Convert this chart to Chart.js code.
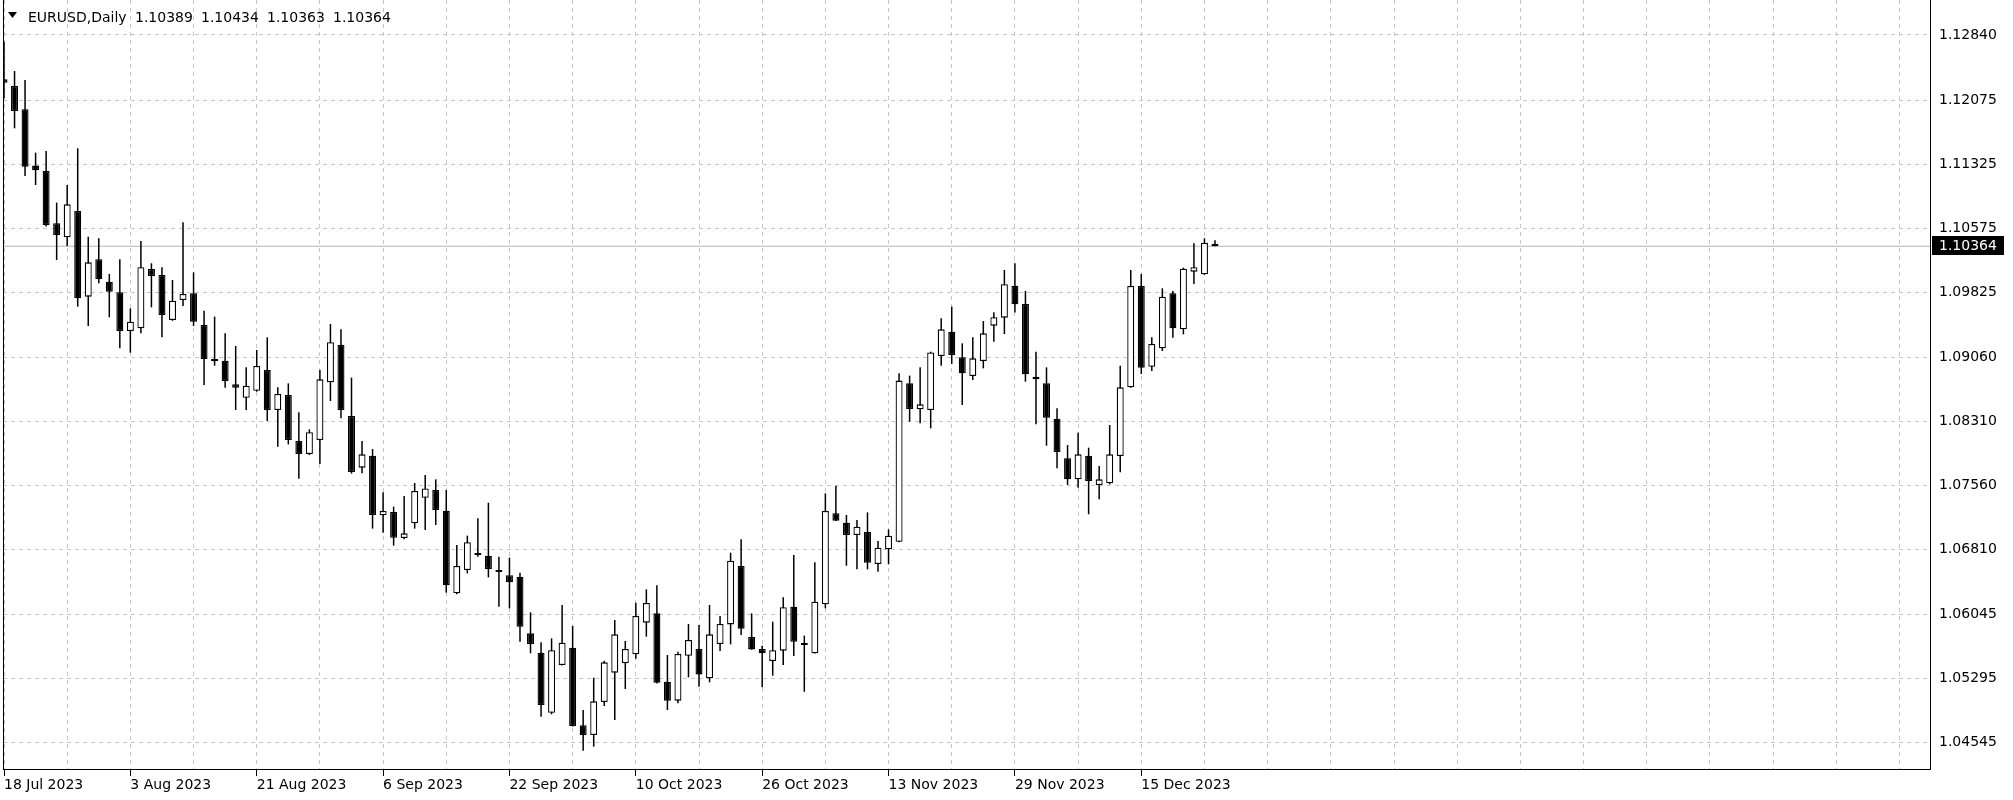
<!DOCTYPE html>
<html>
<head>
<meta charset="utf-8">
<title>EURUSD,Daily</title>
<script src="https://cdn.jsdelivr.net/npm/chart.js@4.4.0/dist/chart.umd.min.js"></script>
<style>
  html, body { margin: 0; padding: 0; background: #fff; }
  #chart_wrap { width: 2013px; height: 800px; }
</style>
</head>
<body>
<div id="chart_wrap"><canvas id="chart_eurusd" width="2013" height="800"></canvas></div>
<script>
// daily bars, 18 Jul 2023 .. last (open) bar
const symbol_name = 'EURUSD,Daily';

const opens = [
  1.12320, 1.12242, 1.11969, 1.11309, 1.11246, 1.10633, 1.10468, 1.10777, 1.09773, 1.10211,
  1.09949, 1.09824, 1.09371, 1.09402, 1.10097, 1.10027, 1.09500, 1.09734, 1.09812, 1.09441,
  1.09042, 1.09023, 1.08745, 1.08589, 1.08671, 1.08913, 1.08445, 1.08620, 1.08081, 1.07929,
  1.08093, 1.08769, 1.09207, 1.08374, 1.07769, 1.07909, 1.07210, 1.07249, 1.06944, 1.07116,
  1.07417, 1.07507, 1.07265, 1.06296, 1.06569, 1.06765, 1.06737, 1.06555, 1.06507, 1.06491,
  1.05827, 1.05600, 1.04897, 1.05456, 1.05659, 1.04749, 1.04635, 1.05022, 1.05366, 1.05475,
  1.05581, 1.05952, 1.06061, 1.05260, 1.05038, 1.05565, 1.05643, 1.05300, 1.05702, 1.05932,
  1.06616, 1.05784, 1.05643, 1.05503, 1.05624, 1.06140, 1.05700, 1.05593, 1.06167, 1.07234,
  1.07124, 1.06980, 1.07015, 1.06640, 1.06812, 1.06901, 1.08757, 1.08452, 1.08445, 1.09078,
  1.09363, 1.09062, 1.08843, 1.09019, 1.09433, 1.09527, 1.09902, 1.09687, 1.08835, 1.08757,
  1.08343, 1.07878, 1.07632, 1.07909, 1.07566, 1.07585, 1.07905, 1.08710, 1.09898, 1.08952,
  1.09167, 1.09812, 1.09390, 1.10066, 1.10035, 1.10389
];
const highs = [
  1.12760, 1.12418, 1.12313, 1.11461, 1.11480, 1.10875, 1.11082, 1.11512, 1.10476, 1.10457,
  1.10039, 1.10211, 1.09636, 1.10425, 1.10164, 1.10117, 1.09968, 1.10644, 1.10058, 1.09609,
  1.09539, 1.09343, 1.09195, 1.08945, 1.09148, 1.09296, 1.08710, 1.08757, 1.08417, 1.08218,
  1.08913, 1.09453, 1.09390, 1.08824, 1.08081, 1.07987, 1.07480, 1.07312, 1.07437, 1.07589,
  1.07683, 1.07632, 1.07507, 1.06862, 1.06972, 1.07175, 1.07358, 1.06725, 1.06714, 1.06538,
  1.06073, 1.05722, 1.05768, 1.06159, 1.05913, 1.04928, 1.05307, 1.05507, 1.05983, 1.05737,
  1.06186, 1.06343, 1.06390, 1.05573, 1.05612, 1.05936, 1.05925, 1.06159, 1.06030, 1.06772,
  1.06929, 1.06061, 1.05682, 1.05964, 1.06249, 1.06745, 1.05800, 1.06659, 1.07468, 1.07558,
  1.07214, 1.07155, 1.07245, 1.06909, 1.07046, 1.08874, 1.08847, 1.08945, 1.09128, 1.09519,
  1.09656, 1.09226, 1.09296, 1.09488, 1.09589, 1.10086, 1.10164, 1.09839, 1.09128, 1.08945,
  1.08464, 1.08034, 1.08179, 1.08003, 1.07788, 1.08269, 1.08964, 1.10086, 1.10039, 1.09296,
  1.09871, 1.09839, 1.10113, 1.10398, 1.10457, 1.10434
];
const lows = [
  1.12100, 1.11746, 1.11187, 1.11082, 1.10594, 1.10203, 1.10367, 1.09656, 1.09429, 1.09929,
  1.09531, 1.09167, 1.09117, 1.09343, 1.09648, 1.09296, 1.09490, 1.09664, 1.09429, 1.08738,
  1.08964, 1.08706, 1.08445, 1.08445, 1.08659, 1.08316, 1.08015, 1.08042, 1.07640, 1.07917,
  1.07812, 1.08550, 1.08347, 1.07700, 1.07702, 1.07054, 1.07007, 1.06855, 1.06929, 1.07054,
  1.07038, 1.07097, 1.06304, 1.06284, 1.06530, 1.06725, 1.06483, 1.06139, 1.06120, 1.05729,
  1.05593, 1.04850, 1.04878, 1.05450, 1.04735, 1.04452, 1.04499, 1.04975, 1.04811, 1.05175,
  1.05530, 1.05788, 1.05240, 1.04928, 1.05007, 1.05311, 1.05202, 1.05253, 1.05620, 1.05698,
  1.05807, 1.05635, 1.05194, 1.05331, 1.05456, 1.05561, 1.05143, 1.05590, 1.06120, 1.07145,
  1.06620, 1.06577, 1.06577, 1.06550, 1.06636, 1.06895, 1.08308, 1.08288, 1.08230, 1.08964,
  1.08984, 1.08503, 1.08796, 1.08933, 1.09246, 1.09335, 1.09586, 1.08777, 1.08277, 1.08027,
  1.07761, 1.07566, 1.07534, 1.07222, 1.07398, 1.07573, 1.07714, 1.08705, 1.08867, 1.08902,
  1.09136, 1.09292, 1.09331, 1.09921, 1.10030, 1.10363
];
const closes = [
  1.12280, 1.11949, 1.11297, 1.11254, 1.10613, 1.10496, 1.10855, 1.09753, 1.10175, 1.09976,
  1.09832, 1.09371, 1.09480, 1.10117, 1.10015, 1.09558, 1.09726, 1.09804, 1.09480, 1.09042,
  1.09015, 1.08785, 1.08706, 1.08730, 1.08960, 1.08445, 1.08632, 1.08093, 1.07929, 1.08183,
  1.08804, 1.09238, 1.08445, 1.07718, 1.07925, 1.07214, 1.07261, 1.06948, 1.06999, 1.07495,
  1.07526, 1.07273, 1.06390, 1.06616, 1.06894, 1.06745, 1.06581, 1.06545, 1.06425, 1.05905,
  1.05702, 1.04987, 1.05628, 1.05718, 1.04741, 1.04635, 1.05030, 1.05487, 1.05815, 1.05643,
  1.06030, 1.06183, 1.05249, 1.05038, 1.05585, 1.05749, 1.05346, 1.05815, 1.05936, 1.06679,
  1.05882, 1.05639, 1.05593, 1.05628, 1.06132, 1.05729, 1.05690, 1.06198, 1.07261, 1.07148,
  1.06980, 1.07077, 1.06655, 1.06831, 1.06972, 1.08789, 1.08456, 1.08511, 1.09120, 1.09390,
  1.09089, 1.08874, 1.09050, 1.09343, 1.09531, 1.09918, 1.09683, 1.08863, 1.08804, 1.08355,
  1.07952, 1.07632, 1.07925, 1.07612, 1.07632, 1.07925, 1.08710, 1.09898, 1.08941, 1.09218,
  1.09773, 1.09402, 1.10101, 1.10117, 1.10406, 1.10364
];

// time axis labels, one every 12 bars starting at bar 0
const x_labels = ['18 Jul 2023', '3 Aug 2023', '21 Aug 2023', '6 Sep 2023', '22 Sep 2023',
                  '10 Oct 2023', '26 Oct 2023', '13 Nov 2023', '29 Nov 2023', '15 Dec 2023'];
// price axis labels
const y_ticks = [1.12840, 1.12075, 1.11325, 1.10575, 1.09825, 1.09060,
                 1.08310, 1.07560, 1.06810, 1.06045, 1.05295, 1.04545];

const bars_per_label = 12;
const bars_per_grid = 6;

// visible window (bar index / price)
const x_min = -0.095;
const x_max = 182.9;
const y_min = 1.04237;
const y_max = 1.13250;

const font_name = '"DejaVu Sans", Verdana, sans-serif';
const grid_color = '#c6c6c6';

Chart.defaults.font.family = font_name;
Chart.defaults.font.size = 14;
Chart.defaults.color = '#000';

// build chart.js data
let wick_data = [];
let body_data = [];
for (let i=0; i<opens.length; i++){
  wick_data.push({x: i, y: [lows[i], highs[i]]});
  body_data.push({x: i, y: [opens[i], closes[i]]});
}
const last = closes.length - 1;
const bid_data = [{x: x_min, y: closes[last]}, {x: x_max, y: closes[last]}];

// title, left frame and bid label
const mt4_overlay = {
  id: 'mt4_overlay',
  afterDraw(chart){
    const ctx = chart.ctx;
    const area = chart.chartArea;
    const y_scale = chart.scales.y;
    ctx.save();
    ctx.strokeStyle = '#000';
    ctx.lineWidth = 1;
    ctx.beginPath();
    ctx.moveTo(area.left + 0.5, area.top);
    ctx.lineTo(area.left + 0.5, area.bottom);
    ctx.stroke();

    // bid price box on the price scale
    const py = Math.round(y_scale.getPixelForValue(closes[last]));
    ctx.fillStyle = '#000';
    ctx.fillRect(area.right + 2, py - 10, 72, 19);
    ctx.fillStyle = '#fff';
    ctx.font = '14px ' + font_name;
    ctx.textBaseline = 'middle';
    ctx.textAlign = 'left';
    ctx.fillText(closes[last].toFixed(5), area.right + 9, py);

    // symbol line at top-left
    ctx.fillStyle = '#000';
    ctx.beginPath();
    ctx.moveTo(area.left + 5, 12);
    ctx.lineTo(area.left + 14, 12);
    ctx.lineTo(area.left + 9.5, 18);
    ctx.closePath();
    ctx.fill();
    ctx.textBaseline = 'alphabetic';
    ctx.fillText(symbol_name, 28, 22);
    const ohlc = [opens[last], highs[last], lows[last], closes[last]];
    for (let k=0; k<ohlc.length; k++){
      ctx.fillText(ohlc[k].toFixed(5), 135 + k*66, 22);
    }
    ctx.restore();
  }
};

const config = {
  type: 'bar',
  data: {
    datasets: [
      {
        // high-low wicks
        data: wick_data,
        barThickness: 1.5,
        backgroundColor: '#000',
        borderWidth: 0,
        grouped: false,
        inflateAmount: 0,
        order: 2
      },
      {
        // open-close bodies
        data: body_data,
        barThickness: 7,
        minBarLength: 2,
        backgroundColor: ctx => closes[ctx.dataIndex] >= opens[ctx.dataIndex] ? '#fff' : '#000',
        borderColor: '#000',
        borderWidth: 1.3,
        borderSkipped: false,
        grouped: false,
        inflateAmount: 0,
        order: 1
      },
      {
        // bid line
        type: 'line',
        data: bid_data,
        borderColor: '#b4b4b4',
        borderWidth: 1,
        pointRadius: 0,
        fill: false,
        order: 3
      }
    ]
  },
  options: {
    responsive: false,
    devicePixelRatio: 1,
    animation: false,
    events: [],
    layout: { autoPadding: false, padding: { left: 3, top: 0, right: 0, bottom: 0 } },
    plugins: { legend: { display: false }, title: { display: false }, tooltip: { enabled: false } },
    scales: {
      x: {
        type: 'linear',
        position: 'bottom',
        min: x_min,
        max: x_max,
        bounds: 'data',
        offset: false,
        afterBuildTicks: scale => {
          let t = [];
          for (let v=0; v<=x_max; v+=bars_per_grid) t.push({value: v});
          scale.ticks = t;
        },
        afterFit: scale => {
          scale.height = 31;
          scale.paddingLeft = 0;
          scale.paddingRight = 0;
        },
        grid: {
          offset: false,
          color: grid_color,
          lineWidth: 1,
          tickLength: 7,
          tickColor: ctx => (ctx.tick && ctx.tick.value % bars_per_label === 0 &&
                             ctx.tick.value / bars_per_label < x_labels.length) ? '#000' : 'rgba(0,0,0,0)'
        },
        border: { display: true, color: '#000', width: 1, dash: [4, 4] },
        ticks: {
          autoSkip: false,
          maxRotation: 0,
          align: 'start',
          padding: 1,
          callback: function(value){
            if (value % bars_per_label !== 0) return '';
            const k = value / bars_per_label;
            return k < x_labels.length ? x_labels[k] : '';
          }
        }
      },
      y: {
        type: 'linear',
        position: 'right',
        min: y_min,
        max: y_max,
        bounds: 'data',
        afterBuildTicks: scale => {
          scale.ticks = y_ticks.map(v => ({value: v}));
        },
        afterFit: scale => {
          scale.width = 83;
          scale.paddingTop = 0;
          scale.paddingBottom = 0;
        },
        grid: { color: grid_color, lineWidth: 1, drawTicks: false },
        border: { display: true, color: '#000', width: 1, dash: [4, 4] },
        ticks: {
          padding: 9,
          callback: v => v.toFixed(5)
        }
      }
    }
  },
  plugins: [mt4_overlay]
};

window.eurusdChart = new Chart(document.getElementById('chart_eurusd'), config);
</script>
</body>
</html>
